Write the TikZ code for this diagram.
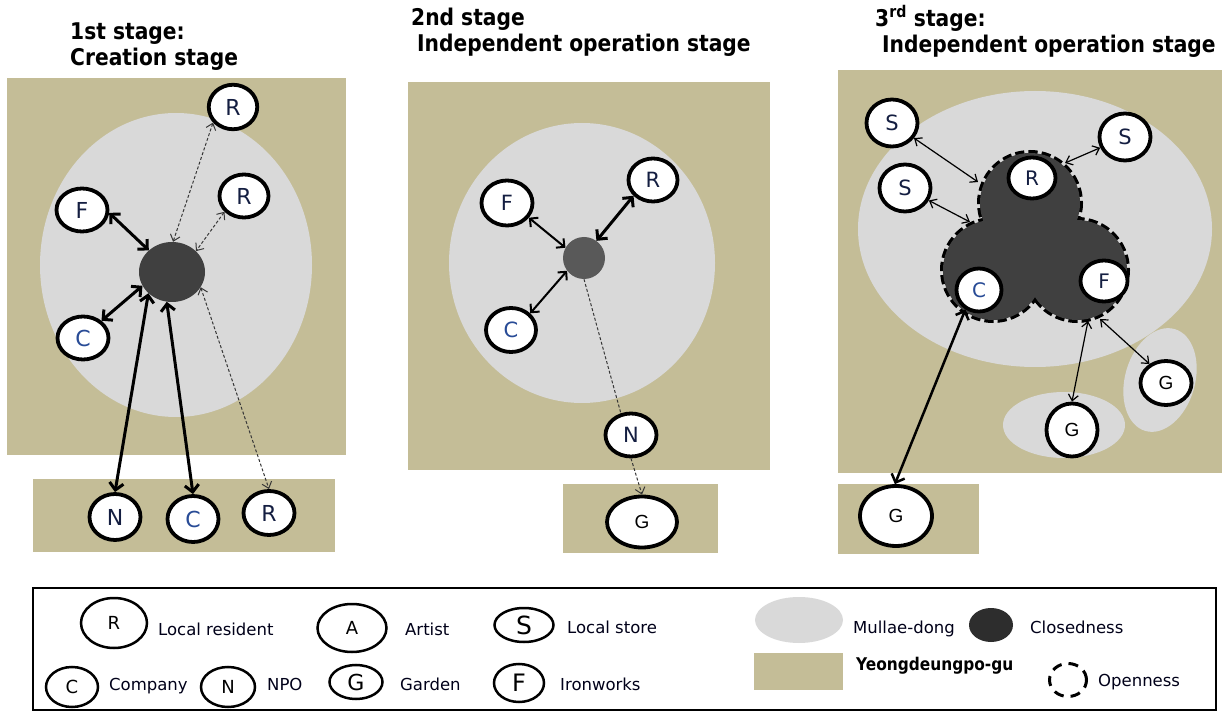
\documentclass[tikz,border=0pt]{standalone}
\usepackage{fontspec}
\setmainfont{DejaVu Sans}
\newfontfamily\titlefont{DejaVu Sans}[FakeStretch=0.88]
\newfontfamily\arialfont{Liberation Sans}
\usetikzlibrary{arrows.meta,shapes.geometric}
\definecolor{tanc}{RGB}{196,189,151}
\definecolor{mullc}{RGB}{217,217,217}
\definecolor{darkA}{RGB}{64,64,64}
\definecolor{darkB}{RGB}{89,89,89}
\definecolor{darkL}{RGB}{45,45,45}
\definecolor{dashc}{RGB}{55,55,55}
\definecolor{bluec}{RGB}{40,75,150}
\definecolor{navyc}{RGB}{20,30,65}
\tikzset{
  nd/.style={ellipse, draw, line width=3.8pt, fill=white, inner sep=0pt},
  lg/.style={ellipse, draw, line width=2.5pt, fill=white, inner sep=0pt},
  sz/.style 2 args={minimum width=#1pt, minimum height=#2pt},
  fs/.style={font=\fontsize{#1}{#1}\selectfont},
  ar/.style={font=\arialfont\fontsize{#1}{#1}\selectfont},
  blob/.style={ellipse, inner sep=0pt, draw=none},
  thk/.style={line width=3pt, arrows={Straight Barb[length=7pt,width=14pt]-Straight Barb[length=7pt,width=14pt]}},
  med/.style={line width=2pt, arrows={Straight Barb[length=6pt,width=12pt]-Straight Barb[length=6pt,width=12pt]}},
  thn/.style={line width=1.2pt, arrows={Straight Barb[length=6pt,width=10pt]-Straight Barb[length=6pt,width=10pt]}},
  dsh/.style={line width=1pt, draw=dashc, dash pattern=on 3pt off 2pt},
  dshar/.style={dsh, arrows={Straight Barb[length=6pt,width=10pt]-Straight Barb[length=6pt,width=10pt]}},
  ttl/.style={anchor=base west, inner sep=0pt, font=\titlefont\bfseries\fontsize{23}{23}\selectfont},
  ltx/.style={anchor=base west, inner sep=0pt, font=\fontsize{16.5}{16.5}\selectfont, text=black!90!blue},
}
\begin{document}
\begin{tikzpicture}[x=1pt,y=-1pt]
\useasboundingbox (0,0) rectangle (1227,711);
\fill[white] (0,0) rectangle (1227,711);

% ---------- titles ----------
\node[ttl] (t1a) at (70,40) {1st stage:};
\node[ttl] (t1b) at (70,66) {Creation stage};
\node[ttl] (t2a) at (411,26) {2nd stage};
\node[ttl] (t2b) at (417,52) {Independent operation stage};
\node[ttl] (t3a) at (875,27) {3\textsuperscript{rd} stage:};
\node[ttl] (t3b) at (882,53) {Independent operation stage};

% ---------- stage 1 ----------
\fill[tanc] (7,78) rectangle (346,455);
\fill[mullc] (176,265) ellipse [x radius=136, y radius=152];
\fill[tanc] (33,479) rectangle (335,552);
\node[blob, fill=darkA, sz={66}{60}] (D1) at (172,272) {};
\node[nd, sz={48.5}{44.5}, fs=22, text=navyc] (R1a) at (233,107) {R};
\node[nd, sz={49}{43}, fs=22, text=navyc] (R1b) at (244,196) {R};
\node[nd, sz={51}{43}, fs=22, text=navyc] (F1) at (82,210) {F};
\node[nd, sz={51}{43}, fs=22, text=bluec] (C1) at (83,338) {C};
\node[nd, sz={51}{46}, fs=22, text=navyc] (N1) at (115,517) {N};
\node[nd, sz={51}{46}, fs=22, text=bluec] (C1b) at (193,519) {C};
\node[nd, sz={51}{44}, fs=22, text=navyc] (R1c) at (269,513) {R};
\draw[thk] (F1.354) -- (D1.137);
\draw[thk] (C1.43) -- (D1.205);
\draw[thk] (N1.north) -- (D1.222);
\draw[thk] (C1b.north) -- (D1.260);
\draw[dshar] (R1a.218) -- (D1.88);
\draw[dshar] (R1b.219) -- (D1.41);
\draw[dshar] (D1.332) -- (R1c.north);

% ---------- stage 2 ----------
\fill[tanc] (408,82) rectangle (770,470);
\fill[mullc] (582,263) ellipse [x radius=133, y radius=140];
\fill[tanc] (563,484) rectangle (718,553);
\node[blob, fill=darkB, sz={42}{42}] (D2) at (584,258) {};
\node[nd, sz={51}{45}, fs=21, text=navyc] (F2) at (507,203) {F};
\node[nd, sz={49}{43}, fs=21, text=navyc] (R2) at (653,180) {R};
\node[nd, sz={50}{44}, fs=21, text=bluec] (C2) at (511,330) {C};
\node[nd, sz={51}{43}, fs=21, text=navyc] (N2) at (631,435) {N};
\node[nd, sz={70}{51}, ar=19] (G2) at (642,522) {G};
\draw[med] (F2.326) -- (D2.151);
\draw[thk] (R2.219) -- (D2.54);
\draw[med] (C2.41) -- (D2.217);
\draw[dsh] (D2.south) -- (N2.115);
\draw[dsh, arrows={-Straight Barb[length=6pt,width=10pt]}] (N2.south) -- (G2.north);

% ---------- stage 3 ----------
\fill[tanc] (838,70) rectangle (1222,473);
\fill[mullc] (1035,229) ellipse [x radius=177, y radius=138];
\fill[mullc] (1064,425) ellipse [x radius=61, y radius=33];
\node[blob, fill=mullc, sz={106}{70}, rotate=74] (E3) at (1160,380) {};
\fill[tanc] (838,484) rectangle (979,554);
\draw[line width=6pt, dash pattern=on 9pt off 4pt] (1030,203) circle [radius=50] (993,270) circle [radius=50] (1077,270) circle [radius=50];
\fill[darkA] (1030,203) circle [radius=50] (993,270) circle [radius=50] (1077,270) circle [radius=50];
\coordinate (tS1) at (978,182);
\coordinate (tS2) at (970,222);
\coordinate (tS3) at (1065,163);
\coordinate (tG1) at (1088,321);
\coordinate (tG2) at (1100,319);
\node[nd, sz={47}{41}, fs=20, text=navyc] (R3) at (1032,178) {R};
\node[nd, sz={45}{43}, fs=20, text=bluec] (C3) at (979,290) {C};
\node[nd, sz={47}{41}, fs=20, text=navyc] (F3) at (1104,281) {F};
\node[nd, sz={51}{47}, fs=21, text=navyc] (S1) at (892,123) {S};
\node[nd, sz={51}{47}, fs=21, text=navyc] (S2) at (905,188) {S};
\node[nd, sz={51}{47}, fs=21, text=navyc] (S3) at (1125,137) {S};
\node[nd, sz={51}{53}, ar=19] (G3m) at (1072,430) {G};
\node[nd, sz={51}{44}, ar=19] (G3r) at (1166,383) {G};
\node[nd, sz={72}{60}, ar=19] (G3b) at (896,516) {G};
\draw[thn] (S1) -- (tS1);
\draw[thn] (S2) -- (tS2);
\draw[thn] (S3) -- (tS3);
\draw[thn] (tG1) -- (G3m.north);
\draw[thn] (tG2) -- (G3r.131);
\draw[thk, line width=2.5pt] (C3.235) -- (G3b.92);

% ---------- legend ----------
\node[draw, line width=2pt, inner sep=0pt, minimum width=1183pt, minimum height=122pt, anchor=north west] (box) at (32,587) {};
\node[lg, sz={66}{50}, fs=18] (LR) at (114,623) {R};
\node[ltx] (lR) at (158,635) {Local resident};
\node[lg, sz={69}{48}, fs=18] (LA) at (352,628) {A};
\node[ltx] (lA) at (405,635) {Artist};
\node[lg, sz={59}{34}, fs=25] (LS) at (524,625) {S};
\node[ltx] (lS) at (567,633) {Local store};
\node[lg, sz={52}{40}, fs=18] (LC) at (72,687) {C};
\node[ltx] (lC) at (109,690) {Company};
\node[lg, sz={54}{40}, fs=18] (LN) at (228,687) {N};
\node[ltx] (lN) at (267,690) {NPO};
\node[lg, sz={53}{34}, fs=22] (LG) at (356,682) {G};
\node[ltx] (lG) at (400,690) {Garden};
\node[lg, sz={50}{38}, fs=24] (LF) at (519,683) {F};
\node[ltx] (lF) at (560,690) {Ironworks};
\node[blob, fill=mullc, sz={88}{46}] (LM) at (799,620) {};
\node[ltx] (lM) at (853,633) {Mullae-dong};
\node[blob, fill=darkL, sz={44}{34}] (LD) at (991,625) {};
\node[ltx] (lD) at (1030,633) {Closedness};
\fill[tanc] (754,653) rectangle (843,690);
\node[ltx, font=\titlefont\bfseries\fontsize{17.5}{17.5}\selectfont, text=black] (lY) at (856,670) {Yeongdeungpo-gu};
\node[ellipse, draw, line width=3pt, dash pattern=on 10pt off 7pt, inner sep=0pt, sz={37}{33}] (LO) at (1068,680) {};
\node[ltx] (lO) at (1098,686) {Openness};
\end{tikzpicture}
\end{document}
